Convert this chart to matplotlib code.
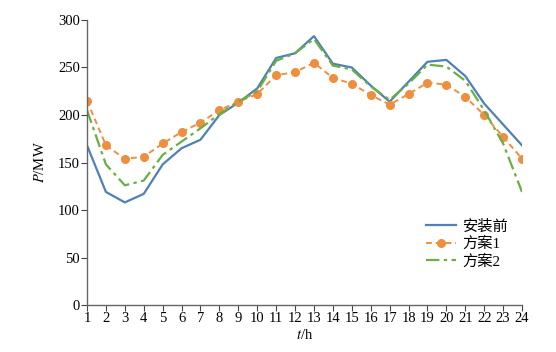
import matplotlib
matplotlib.use('Agg')
import matplotlib.pyplot as plt

plt.rcParams['font.family'] = ['Liberation Serif', 'Noto Sans CJK SC']
plt.rcParams['mathtext.fontset'] = 'stix'

hours = list(range(1, 25))
before = [168, 119, 108, 117, 148, 165, 174, 200, 213, 228, 260, 265, 283, 254,
          250, 231, 214, 235, 256, 258, 241, 212, 190, 168]
plan1 = [215, 168, 154, 156, 170, 182, 192, 205, 214, 222, 242, 245, 255, 239,
         233, 221, 211, 222, 234, 232, 219, 200, 177, 154]
plan2 = [205, 148, 126, 131, 158, 172, 186, 201, 214, 225, 257, 265, 280, 252,
         248, 230, 216, 233, 253, 251, 236, 205, 170, 119]
labels = ['安装前', '方案1', '方案2']

fig = plt.figure(figsize=(5.56, 3.52), dpi=100)
ax = fig.add_axes([0.1565, 0.1335, 0.7824, 0.8097])

ax.plot(hours, before, color='#4f81b4', lw=1.6, label=labels[0])
ax.plot(hours, plan1, color='#ee8f3f', lw=1.4, ls=(0, (3, 2)), marker='o', ms=5.5,
        label=labels[1])
ax.plot(hours, plan2, color='#6aae45', lw=1.6, ls=(0, (6, 2, 1.5, 2)), label=labels[2])

ax.set_xlim(1, 24)
ax.set_ylim(0, 300)
ax.set_xticks(hours)
ax.set_yticks(range(0, 301, 50))
for s in ['top', 'right']:
    ax.spines[s].set_visible(False)
for s in ['left', 'bottom']:
    ax.spines[s].set_color('#666666')
    ax.spines[s].set_linewidth(1.0)
ax.tick_params(direction='out', length=4, color='#444444', labelsize=10.5, pad=1)
ax.set_xlabel('$t$/h', fontsize=10.5, labelpad=2)
ax.set_ylabel('$P$/MW', fontsize=10.5, labelpad=8)

leg = ax.legend(loc='lower right', bbox_to_anchor=(1.0, 0.08), frameon=False,
                fontsize=11, handlelength=2.0, labelspacing=0.2, handletextpad=0.4)

fig.savefig('out.png', dpi=100)
